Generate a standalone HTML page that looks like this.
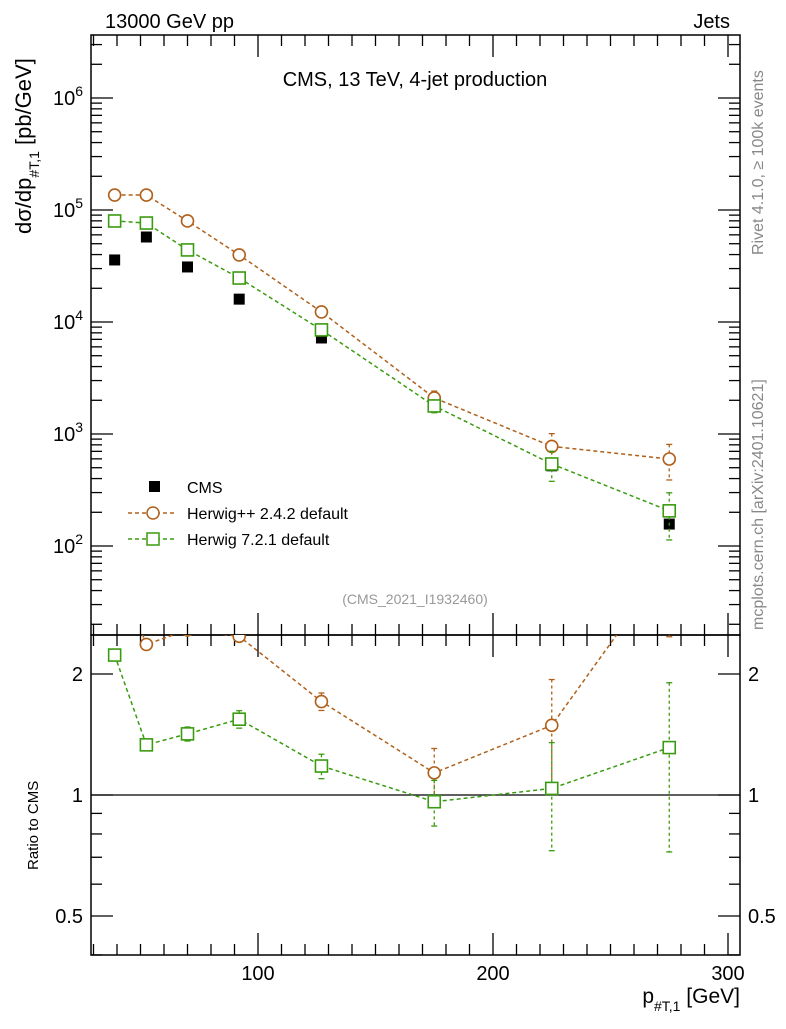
<!DOCTYPE html>
<html><head><meta charset="utf-8"><style>
body{margin:0;background:#fff}
svg text{font-family:"Liberation Sans",sans-serif}
</style></head><body>
<svg id="chart" width="786" height="1024" xmlns="http://www.w3.org/2000/svg">
<defs>
<clipPath id="cm"><rect x="91" y="35" width="649" height="600"/></clipPath>
<clipPath id="cr"><rect x="91" y="635" width="649" height="320"/></clipPath>
</defs>
<g id="axes"></g>
<g id="marks"></g>
<text x="105" y="28" font-size="20">13000 GeV pp</text>
<text x="730" y="28" font-size="20" text-anchor="end">Jets</text>
<text x="415" y="86" font-size="20" text-anchor="middle">CMS, 13 TeV, 4-jet production</text>
<text x="415" y="604" font-size="14" fill="#999" text-anchor="middle">(CMS_2021_I1932460)</text>
<text transform="translate(763,255) rotate(-90)" font-size="16" fill="#888">Rivet 4.1.0, ≥ 100k events</text>
<text transform="translate(763,630) rotate(-90)" font-size="16" fill="#888">mcplots.cern.ch [arXiv:2401.10621]</text>
<text transform="translate(31,234) rotate(-90)" font-size="22">dσ/dp<tspan font-size="14" dy="8">#T,1</tspan><tspan dy="-8"> [pb/GeV]</tspan></text>
<text transform="translate(38,870) rotate(-90)" font-size="15">Ratio to CMS</text>
<text x="740" y="1003" font-size="21" text-anchor="end">p<tspan font-size="14" dy="8">#T,1</tspan><tspan dy="-8"> [GeV]</tspan></text>
<g>
<rect x="149" y="481" width="11" height="11" fill="#000"/>
<text x="187" y="493" font-size="16">CMS</text>
<line x1="128" y1="513" x2="174" y2="513" stroke="#b0601a" stroke-width="1.5" stroke-dasharray="4,3"/>
<circle cx="153" cy="513" r="6" fill="#fff" stroke="#b0601a" stroke-width="1.5"/>
<text x="187" y="519" font-size="16">Herwig++ 2.4.2 default</text>
<line x1="128" y1="539" x2="174" y2="539" stroke="#3a9b10" stroke-width="1.5" stroke-dasharray="4,3"/>
<rect x="147" y="533" width="12" height="12" fill="#fff" stroke="#3a9b10" stroke-width="1.5"/>
<text x="187" y="545" font-size="16">Herwig 7.2.1 default</text>
</g>
</svg>
<script>
const xVals=[39,52.5,70,92,127,175,225,275];
const cmsVals=[35800,57400,31000,16000,7200,1850,520,157];
const hppVals=[136000,136000,79800,39700,12300,2100,775,598];
const hppErr=[0.02,0.02,0.02,0.03,0.05,0.15,0.3,0.35];
const h7Vals=[79800,76500,44000,24700,8500,1780,540,206];
const h7Err=[0.03,0.03,0.04,0.05,0.07,0.13,0.3,0.45];
const xTicks=[100,200,300];
const yTicks=[2,3,4,5,6];
const rTicks=[0.5,1,2];

const NS="http://www.w3.org/2000/svg";
const L=91,R=740,T=35,MB=635,RB=955;
const sx=v=>23+2.35*v;
const sy=v=>210-112*(Math.log10(v)-5);
const sr=v=>795-121*Math.log2(v);
const axes=document.getElementById('axes'),marks=document.getElementById('marks');
function mk(tag,at,par){const e=document.createElementNS(NS,tag);for(const k in at)e.setAttribute(k,at[k]);(par||axes).appendChild(e);return e;}
function ln(x1,y1,x2,y2,par,st){return mk('line',{x1,y1,x2,y2,stroke:st||'#000','stroke-width':1.3},par);}

const f1=mk('rect',{x:L,y:T,width:R-L,height:MB-T,fill:'none',stroke:'#000','stroke-width':1.5});


const f2=mk('rect',{x:L,y:MB,width:R-L,height:RB-MB,fill:'none',stroke:'#000','stroke-width':1.5});


for(let v=30;v<=305;v+=10){const x=sx(v);const maj=v%100==0;const len=maj?22:11;
 ln(x,MB,x,MB-len);ln(x,T,x,T+len);ln(x,RB,x,RB-len);ln(x,MB,x,MB+len);}
xTicks.forEach(v=>{const t=mk('text',{x:sx(v),y:980,'font-size':20,'text-anchor':'middle'});t.textContent=v;
 
 });
for(let d=1;d<=6;d++){for(let m=1;m<10;m++){const y=sy(m*Math.pow(10,d));if(y<T||y>MB)continue;const len=m==1?22:11;ln(L,y,L+len,y);ln(R,y,R-len,y);}}
yTicks.forEach(d=>{const t=mk('text',{x:53,y:sy(Math.pow(10,d))+7,'font-size':20});t.innerHTML='10<tspan font-size="14" dy="-9">'+d+'</tspan>';
 
 });
[0.4,0.5,0.6,0.7,0.8,0.9,1,2].forEach(v=>{const y=sr(v);if(y<MB||y>RB)return;const len=(v==0.5||v==1||v==2)?22:11;ln(L,y,L+len,y);ln(R,y,R-len,y);});
rTicks.forEach(v=>{const y=sr(v)+7;
 const t=mk('text',{x:83,y,'font-size':20,'text-anchor':'end'});t.textContent=v;
 
 
 const t2=mk('text',{x:748,y,'font-size':20});t2.textContent=v;
 
 });
const one=ln(L,sr(1),R,sr(1));



const gM=mk('g',{'clip-path':'url(#cm)'},marks),gR=mk('g',{'clip-path':'url(#cr)'},marks);
function series(vals,err,col,shape,g,ys,name){
 const pts=vals.map((v,i)=>sx(xVals[i])+','+ys(v)).join(' ');
 const pl=mk('polyline',{points:pts,fill:'none',stroke:col,'stroke-width':1.5,'stroke-dasharray':'4,3'},g);
 
 
 vals.forEach((v,i)=>{const x=sx(xVals[i]),y=ys(v),y1=ys(v*(1+err[i])),y2=ys(v*(1-err[i]));
  ln(x,y1,x,y2,g,col).setAttribute('stroke-dasharray','3,3');
  ln(x-3,y1,x+3,y1,g,col);ln(x-3,y2,x+3,y2,g,col);
  let m;if(shape=='c')m=mk('circle',{cx:x,cy:y,r:6,fill:'#fff',stroke:col,'stroke-width':1.6},g);
  else m=mk('rect',{x:x-6,y:y-6,width:12,height:12,fill:'#fff',stroke:col,'stroke-width':1.6},g);
  
  });
}
cmsVals.forEach((v,i)=>{const r=mk('rect',{x:sx(xVals[i])-5.5,y:sy(v)-5.5,width:11,height:11,fill:'#000'},gM);
 
 });
series(hppVals,hppErr,'#b0601a','c',gM,sy,'herwigpp');
series(h7Vals,h7Err,'#3a9b10','s',gM,sy,'herwig7');
series(hppVals.map((v,i)=>v/cmsVals[i]),hppErr,'#b0601a','c',gR,sr,'herwigpp-ratio');
series(h7Vals.map((v,i)=>v/cmsVals[i]),h7Err,'#3a9b10','s',gR,sr,'herwig7-ratio');
</script>
</body></html>
